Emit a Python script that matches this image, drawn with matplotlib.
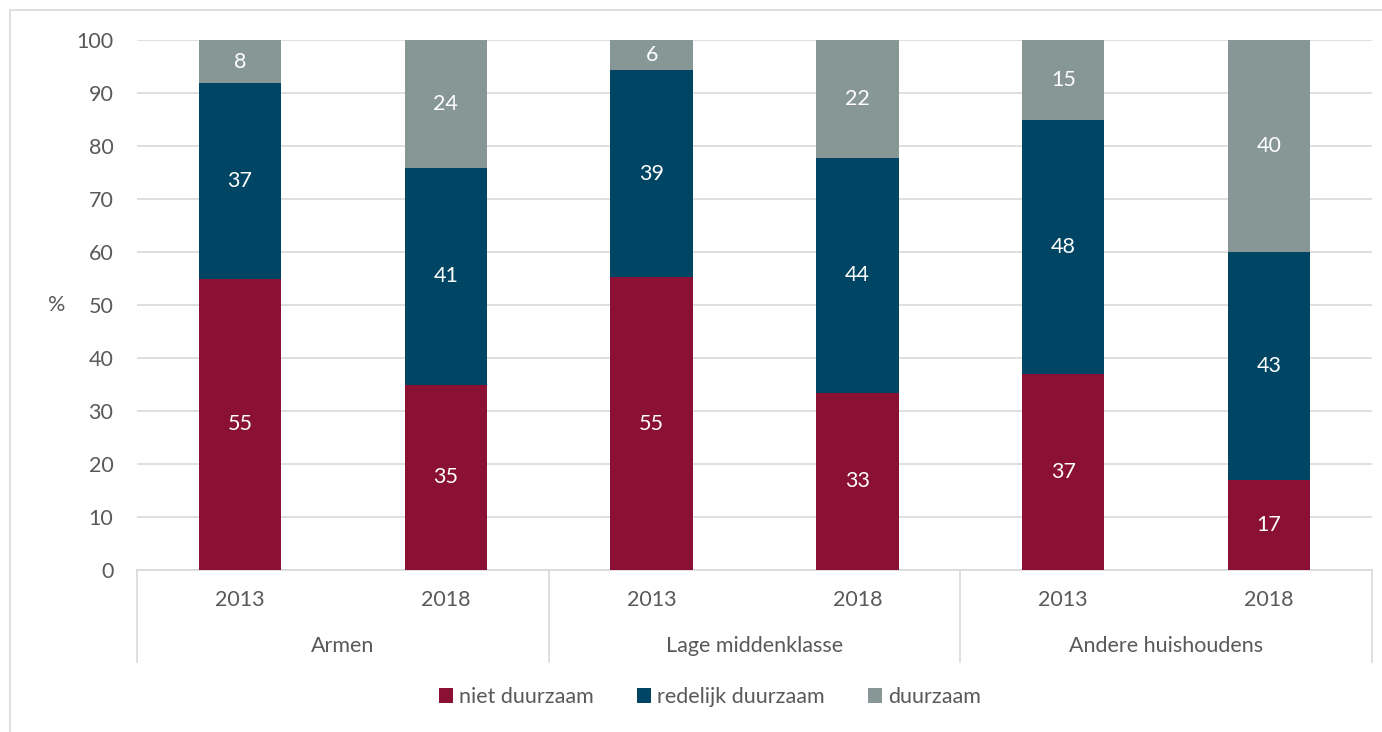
import numpy as np
import matplotlib.pyplot as plt
from matplotlib.transforms import blended_transform_factory
from matplotlib.patches import Rectangle

plt.rcParams['font.family'] = ['Lato', 'DejaVu Sans']

groups = ['Armen', 'Lage middenklasse', 'Andere huishoudens']
years = ['2013', '2018', '2013', '2018', '2013', '2018']
series = ['niet duurzaam', 'redelijk duurzaam', 'duurzaam']
niet = [55.0, 35.0, 55.2, 33.4, 37.0, 17.0]
redelijk = [36.8, 40.9, 39.2, 44.4, 48.0, 43.0]
duurzaam = [8.2, 24.1, 5.6, 22.2, 15.0, 40.0]
labels_niet = [55, 35, 55, 33, 37, 17]
labels_red = [37, 41, 39, 44, 48, 43]
labels_duur = [8, 24, 6, 22, 15, 40]
colors = ['#8a1133', '#004563', '#869795']
fs = 15.5
tc = '#595959'

fig = plt.figure(figsize=(13.82, 7.32), dpi=100)
ax = fig.add_axes([137 / 1382, 162 / 732, 1235 / 1382, 530 / 732])

x = np.arange(len(years))
w = 0.4
bottom = np.zeros(len(years))
for vals, labs, col, name in zip([niet, redelijk, duurzaam],
                                 [labels_niet, labels_red, labels_duur],
                                 colors, series):
    bars = ax.bar(x, vals, w, bottom=bottom, color=col, label=name, zorder=3)
    ax.bar_label(bars, labels=[str(v) for v in labs], label_type='center',
                 color='white', fontsize=fs)
    bottom += np.array(vals)

ax.set_xlim(-0.5, 5.5)
ax.set_ylim(0, 100)
ax.set_yticks(range(0, 101, 10))
ax.yaxis.grid(True, color='#d9d9d9', lw=1.2, zorder=0)
for s in ['top', 'right', 'left']:
    ax.spines[s].set_visible(False)
ax.spines['bottom'].set_color('#d9d9d9')
ax.spines['bottom'].set_linewidth(1.2)
ax.tick_params(axis='y', length=0, labelsize=fs, labelcolor=tc, pad=17)
ax.set_xticks([])
ax.set_ylabel('%', rotation=0, fontsize=fs, color=tc, va='center', ha='center')
ax.yaxis.set_label_coords(-0.065, 0.5)

trans = blended_transform_factory(ax.transData, ax.transAxes)
for i, y in enumerate(years):
    ax.text(i, -0.057, y, transform=trans, ha='center', va='center',
            fontsize=fs, color=tc)
for g, name in enumerate(groups):
    ax.text(2 * g + 0.5, -0.143, name, transform=trans, ha='center', va='center',
            fontsize=fs, color=tc)
for xs in [-0.5, 1.5, 3.5, 5.5]:
    ax.plot([xs, xs], [0, -0.174], transform=trans, color='#d9d9d9',
            lw=1.2, clip_on=False)

fig.legend(loc='center', bbox_to_anchor=(710 / 1382, 35 / 732), ncol=3, frameon=False,
           fontsize=fs, labelcolor=tc, handlelength=0.65, handleheight=0.65,
           handletextpad=0.3, columnspacing=2.0)

fig.patches.append(Rectangle((10 / 1382, -0.1), 1.2, 1 - 10 / 732 + 0.1,
                             transform=fig.transFigure, fill=False,
                             edgecolor='#d9d9d9', lw=1.2))

fig.savefig('out.png', dpi=100)
